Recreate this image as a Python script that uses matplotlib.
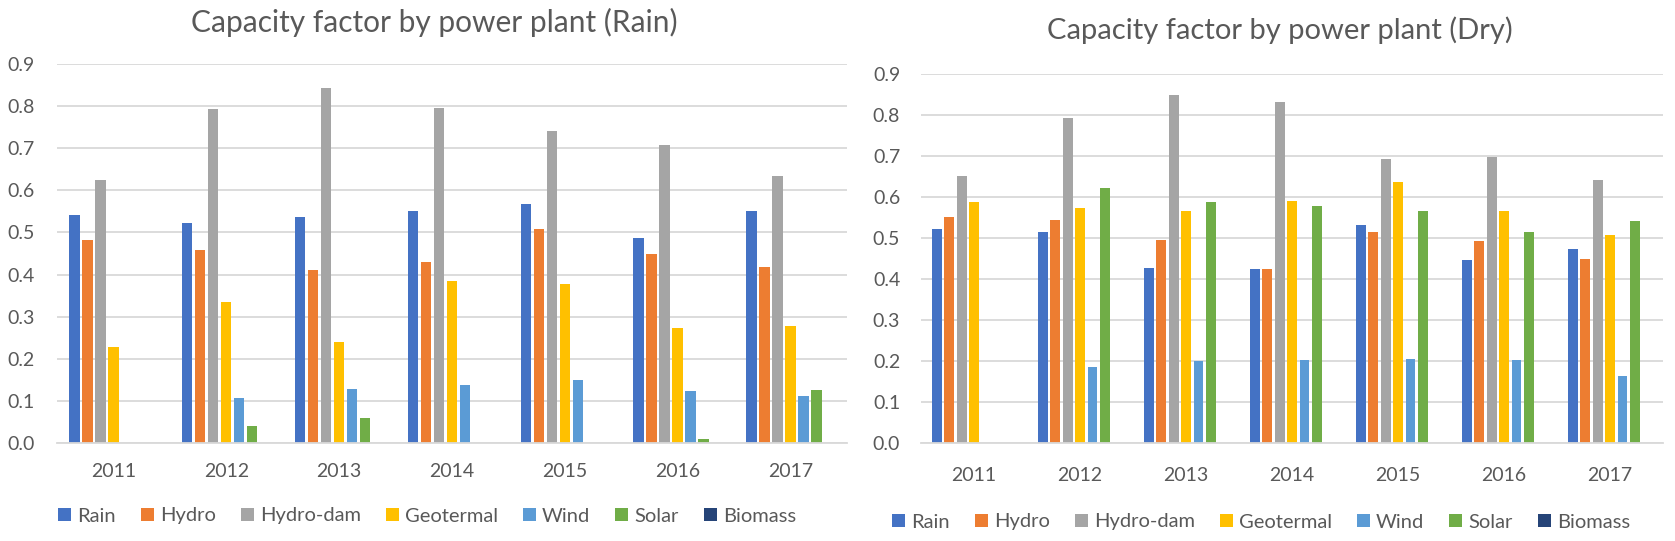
import matplotlib
matplotlib.use("Agg")
import matplotlib.pyplot as plt
from matplotlib.patches import Patch

plt.rcParams['font.family'] = ['Lato', 'DejaVu Sans']

years = ["2011", "2012", "2013", "2014", "2015", "2016", "2017"]
series = ["Rain", "Hydro", "Hydro-dam", "Geotermal", "Wind", "Solar", "Biomass"]
colors = ["#4472C4", "#ED7D31", "#A5A5A5", "#FFC000", "#5B9BD5", "#70AD47", "#264478"]

# Rain season
rain_rain = [0.541, 0.522, 0.536, 0.550, 0.567, 0.486, 0.550]
rain_hydro = [0.483, 0.458, 0.411, 0.429, 0.509, 0.450, 0.418]
rain_dam = [0.624, 0.793, 0.844, 0.795, 0.741, 0.708, 0.635]
rain_geo = [0.228, 0.334, 0.240, 0.384, 0.377, 0.273, 0.277]
rain_wind = [0.0, 0.108, 0.129, 0.138, 0.149, 0.123, 0.112]
rain_solar = [0.0, 0.040, 0.059, 0.0, 0.0, 0.010, 0.127]
rain_biomass = [0, 0, 0, 0, 0, 0, 0]

# Dry season
dry_rain = [0.523, 0.515, 0.428, 0.426, 0.533, 0.447, 0.473]
dry_hydro = [0.551, 0.545, 0.496, 0.426, 0.515, 0.493, 0.450]
dry_dam = [0.651, 0.793, 0.850, 0.833, 0.693, 0.698, 0.641]
dry_geo = [0.589, 0.573, 0.566, 0.592, 0.637, 0.566, 0.509]
dry_wind = [0.0, 0.185, 0.201, 0.202, 0.206, 0.202, 0.164]
dry_solar = [0.0, 0.623, 0.589, 0.578, 0.566, 0.516, 0.542]
dry_biomass = [0, 0, 0, 0, 0, 0, 0]

yticks = [0.0, 0.1, 0.2, 0.3, 0.4, 0.5, 0.6, 0.7, 0.8, 0.9]

TEXT = "#595959"
GRID = "#D9D9D9"
W, H = 1675, 541


def draw_panel(ax, data, slot, xpad, ypad):
    bar_w = slot * 0.8
    x = range(len(years))
    for i, (vals, name, c) in enumerate(zip(data, series, colors)):
        pos = [xi + (i - 3) * slot for xi in x]
        ax.bar(pos, vals, width=bar_w, color=c, label=name, zorder=3)

    ax.set_ylim(0, 0.9)
    ax.set_xlim(-0.5, len(years) - 0.5)
    ax.set_yticks(yticks)
    ax.set_yticklabels([f"{t:.1f}" for t in yticks])
    ax.set_xticks(list(x))
    ax.set_xticklabels(years)
    ax.tick_params(axis='both', length=0, labelsize=14, colors=TEXT)
    ax.tick_params(axis='x', pad=xpad)
    ax.tick_params(axis='y', pad=ypad)
    ax.yaxis.grid(True, color=GRID, linewidth=1.3, zorder=0)
    for s in ["top", "right", "left"]:
        ax.spines[s].set_visible(False)
    ax.spines["bottom"].set_color(GRID)
    ax.spines["bottom"].set_linewidth(1.3)
    ax.spines["bottom"].set_zorder(4)


def add_legend(ax, loc, x_px, y_px):
    # legend row under the plot, placed in figure pixels
    handles = [Patch(facecolor=c, label=n) for n, c in zip(series, colors)]
    ax.legend(handles=handles, loc=loc, bbox_to_anchor=(x_px / W, 1 - y_px / H),
              bbox_transform=ax.figure.transFigure, ncol=7, frameon=False,
              fontsize=14.5, labelcolor=TEXT, borderpad=0, borderaxespad=0,
              handlelength=0.64, handleheight=0.64, handletextpad=0.3,
              columnspacing=1.25)


fig = plt.figure(figsize=(16.75, 5.41), dpi=100)
ax1 = fig.add_axes([0.0340, 0.1811, 0.4716, 0.7006])
ax2 = fig.add_axes([0.5499, 0.1806, 0.4430, 0.6821])

draw_panel(ax1, [rain_rain, rain_hydro, rain_dam, rain_geo, rain_wind, rain_solar, rain_biomass],
           0.115, 14.7, 15.8)
draw_panel(ax2, [dry_rain, dry_hydro, dry_dam, dry_geo, dry_wind, dry_solar, dry_biomass],
           0.117, 17.4, 15.0)

fig.text(434 / W, 1 - 22 / H, "Capacity factor by power plant (Rain)",
         ha='center', va='center', fontsize=21.5, color=TEXT)
fig.text(1280 / W, 1 - 30 / H, "Capacity factor by power plant (Dry)",
         ha='center', va='center', fontsize=21, color=TEXT)

add_legend(ax1, 'center left', 58, 516)
add_legend(ax2, 'center right', 1630, 522)

fig.savefig("out.png", dpi=100, facecolor="white")
